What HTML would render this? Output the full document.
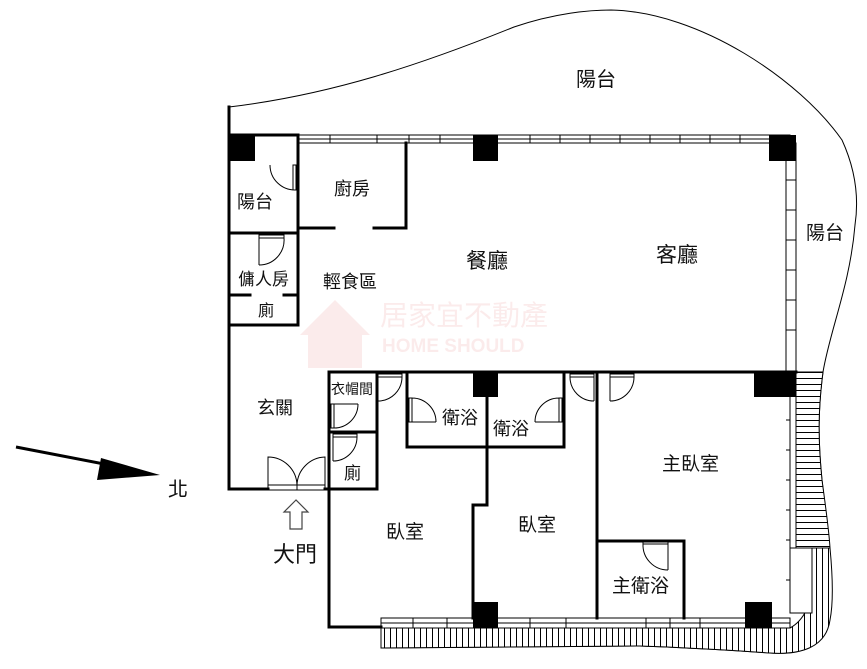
<!DOCTYPE html>
<html><head><meta charset="utf-8"><style>
html,body{margin:0;padding:0;background:#fff}
svg{display:block}
text{font-family:"Liberation Sans","Noto Sans CJK TC",sans-serif;fill:#111}
</style></head><body>
<svg width="867" height="669" viewBox="0 0 867 669" xmlns="http://www.w3.org/2000/svg">
<defs>
<pattern id="vh" width="6" height="10" patternUnits="userSpaceOnUse"><rect width="6" height="10" fill="#fff"/><line x1="0.5" y1="0" x2="0.5" y2="10" stroke="#000" stroke-width="1"/></pattern>
<pattern id="hh" width="10" height="6" patternUnits="userSpaceOnUse"><rect width="10" height="6" fill="#fff"/><line x1="0" y1="0.5" x2="10" y2="0.5" stroke="#000" stroke-width="1"/></pattern>
</defs>
<!-- balcony outline -->
<path d="M229,107 C330,95 420,65 514,27 C555,13 590,10 611,10 C700,12 800,80 842,140 C858,175 858,205 855,225 C850,285 830,330 823,372 C818,410 818,440 822,480 C828,530 834,580 830,615 C826,648 800,655 770,653 C740,651 700,648 640,646 L381,648" fill="none" stroke="#000" stroke-width="1"/>
<!-- hatched balcony bands -->
<path d="M381,628 L790,628 C805,620 812,600 812,590 L812,548 L830,548 C834,590 832,610 830,620 C826,648 800,655 770,653 C740,651 700,648 640,646 L381,648 Z" fill="url(#vh)" stroke="#000"/>
<path d="M796,372 L823,372 C818,410 818,440 822,480 C826,510 829,530 830,548 L796,548 Z" fill="url(#hh)" stroke="#000"/>
<rect x="790" y="548" width="22" height="65" fill="#fff" stroke="#000"/>
<line x1="790" y1="372" x2="790" y2="613" stroke="#000"/>
<!-- windows -->
<g stroke="#000" fill="none" stroke-width="1">
<rect x="298" y="135" width="492" height="8"/><line x1="298" y1="139" x2="790" y2="139"/>
<rect x="786" y="143" width="10" height="229"/>
<rect x="381" y="618" width="409" height="10"/><line x1="381" y1="623" x2="790" y2="623"/>
<path d="M330,135v8M377,135v8M409,135v8M440,135v8M530,135v8M560,135v8M590,135v8M620,135v8M650,135v8M680,135v8M710,135v8M740,135v8"/>
<path d="M413,618v10M447,618v10M530,618v10M566,618v10M646,618v10M670,618v10M700,618v10"/>
<path d="M786,180h10M786,210h10M786,240h10M786,270h10M786,300h10M786,330h10M786,420h4M786,450h4M786,480h4M786,510h4M786,540h4M786,580h4"/>
</g>
<!-- walls -->
<g stroke="#000" stroke-width="3" fill="none" stroke-linecap="square">
<path d="M229,107 V489 H268 M325,489 H377 V372 H329 V627 H381"/>
<path d="M229,135 H298 V233 M298,143 V228 H334 M374,228 H406 V143"/>
<path d="M229,233 H298 V295 H284 M250,295 H229 M229,325 H298 V295"/>
<path d="M329,432 H377"/>
<path d="M329,372 H796"/>
<path d="M407,372 V447 H564 V372 M487,372 V505 H473 V618"/>
<path d="M597,372 V618 M597,541 H684 V618"/>
</g>
<!-- columns -->
<g fill="#000">
<rect x="229" y="135" width="26" height="26"/><rect x="473" y="135" width="25" height="26"/><rect x="769" y="135" width="27" height="26"/>
<rect x="473" y="372" width="25" height="25"/><rect x="754" y="372" width="42" height="25"/>
<rect x="473" y="602" width="25" height="26"/><rect x="745" y="602" width="27" height="26"/>
</g>
<!-- doors -->
<g stroke="#000" stroke-width="1" fill="none">
<path d="M296,165 v25 h-3 v-25z M296,190 A25,25 0 0 1 270,165"/>
<path d="M259,235 h25 v3 h-25z M259,265 V238 M284,238 A25,25 0 0 1 259,265"/>
<path d="M378,374 h24 v3 h-24z M378,401 V377 M402,377 A24,24 0 0 1 378,401"/>
<path d="M331,404 h3 v24 h-3z M331,404 h27 M358,404 A24,24 0 0 1 334,428"/>
<path d="M333,434 h24 v3 h-24z M333,461 V437 M357,437 A24,24 0 0 1 333,461"/>
<path d="M409,398 h3 v24 h-3z M412,398 A24,24 0 0 1 436,422 M412,422 h24"/>
<path d="M562,398 h-3 v24 h3z M559,398 A24,24 0 0 0 535,422 M559,422 h-24"/>
<path d="M570,374 h24 v3 h-24z M594,401 V377 M570,377 A24,24 0 0 0 594,401"/>
<path d="M610,374 h24 v3 h-24z M610,401 V377 M634,377 A24,24 0 0 1 610,401"/>
<path d="M643,541 h25 v3 h-25z M668,570 V544 M643,544 A25,25 0 0 0 668,570"/>
<path d="M268,485 h57 v5 h-57z M297,485 v5"/>
<path d="M268,485 V457 A29,29 0 0 1 297,485 M325,485 V457 A29,29 0 0 0 297,485"/>
</g>
<!-- arrows -->
<line x1="16" y1="447" x2="130" y2="469" stroke="#000" stroke-width="3"/>
<polygon points="160,475 101,458 97,480" fill="#000"/>
<path d="M296,500 L284,512 H290 V529 H302 V512 H308 Z" fill="#fff" stroke="#444" stroke-width="1.2"/>
<!-- watermark -->
<g opacity="0.09" fill="#d33">
<path d="M300,335 L335,300 L370,335 H362 V368 H308 V335Z"/>
<text x="380" y="325" font-size="28" style="fill:#d33">居家宜不動產</text>
<text x="382" y="352" font-size="19" font-weight="bold" style="fill:#d33">HOME SHOULD</text>
</g>
<!-- labels -->
<g font-size="18">
<text x="576" y="86" font-size="20">陽台</text>
<text x="806" y="239" font-size="19">陽台</text>
<text x="237" y="208">陽台</text>
<text x="334" y="195">廚房</text>
<text x="466" y="268" font-size="21">餐廳</text>
<text x="656" y="262" font-size="21">客廳</text>
<text x="323" y="288">輕食區</text>
<text x="238" y="285" font-size="17">傭人房</text>
<text x="258" y="316" font-size="16">廁</text>
<text x="257" y="414">玄關</text>
<text x="331" y="394" font-size="14">衣帽間</text>
<text x="344" y="479" font-size="17">廁</text>
<text x="442" y="424">衛浴</text>
<text x="493" y="435">衛浴</text>
<text x="662" y="470" font-size="19">主臥室</text>
<text x="386" y="538" font-size="19">臥室</text>
<text x="518" y="531" font-size="19">臥室</text>
<text x="612" y="592" font-size="19">主衛浴</text>
<text x="168" y="496" font-size="20">北</text>
<text x="273" y="562" font-size="22">大門</text>
</g>
</svg>
</body></html>
